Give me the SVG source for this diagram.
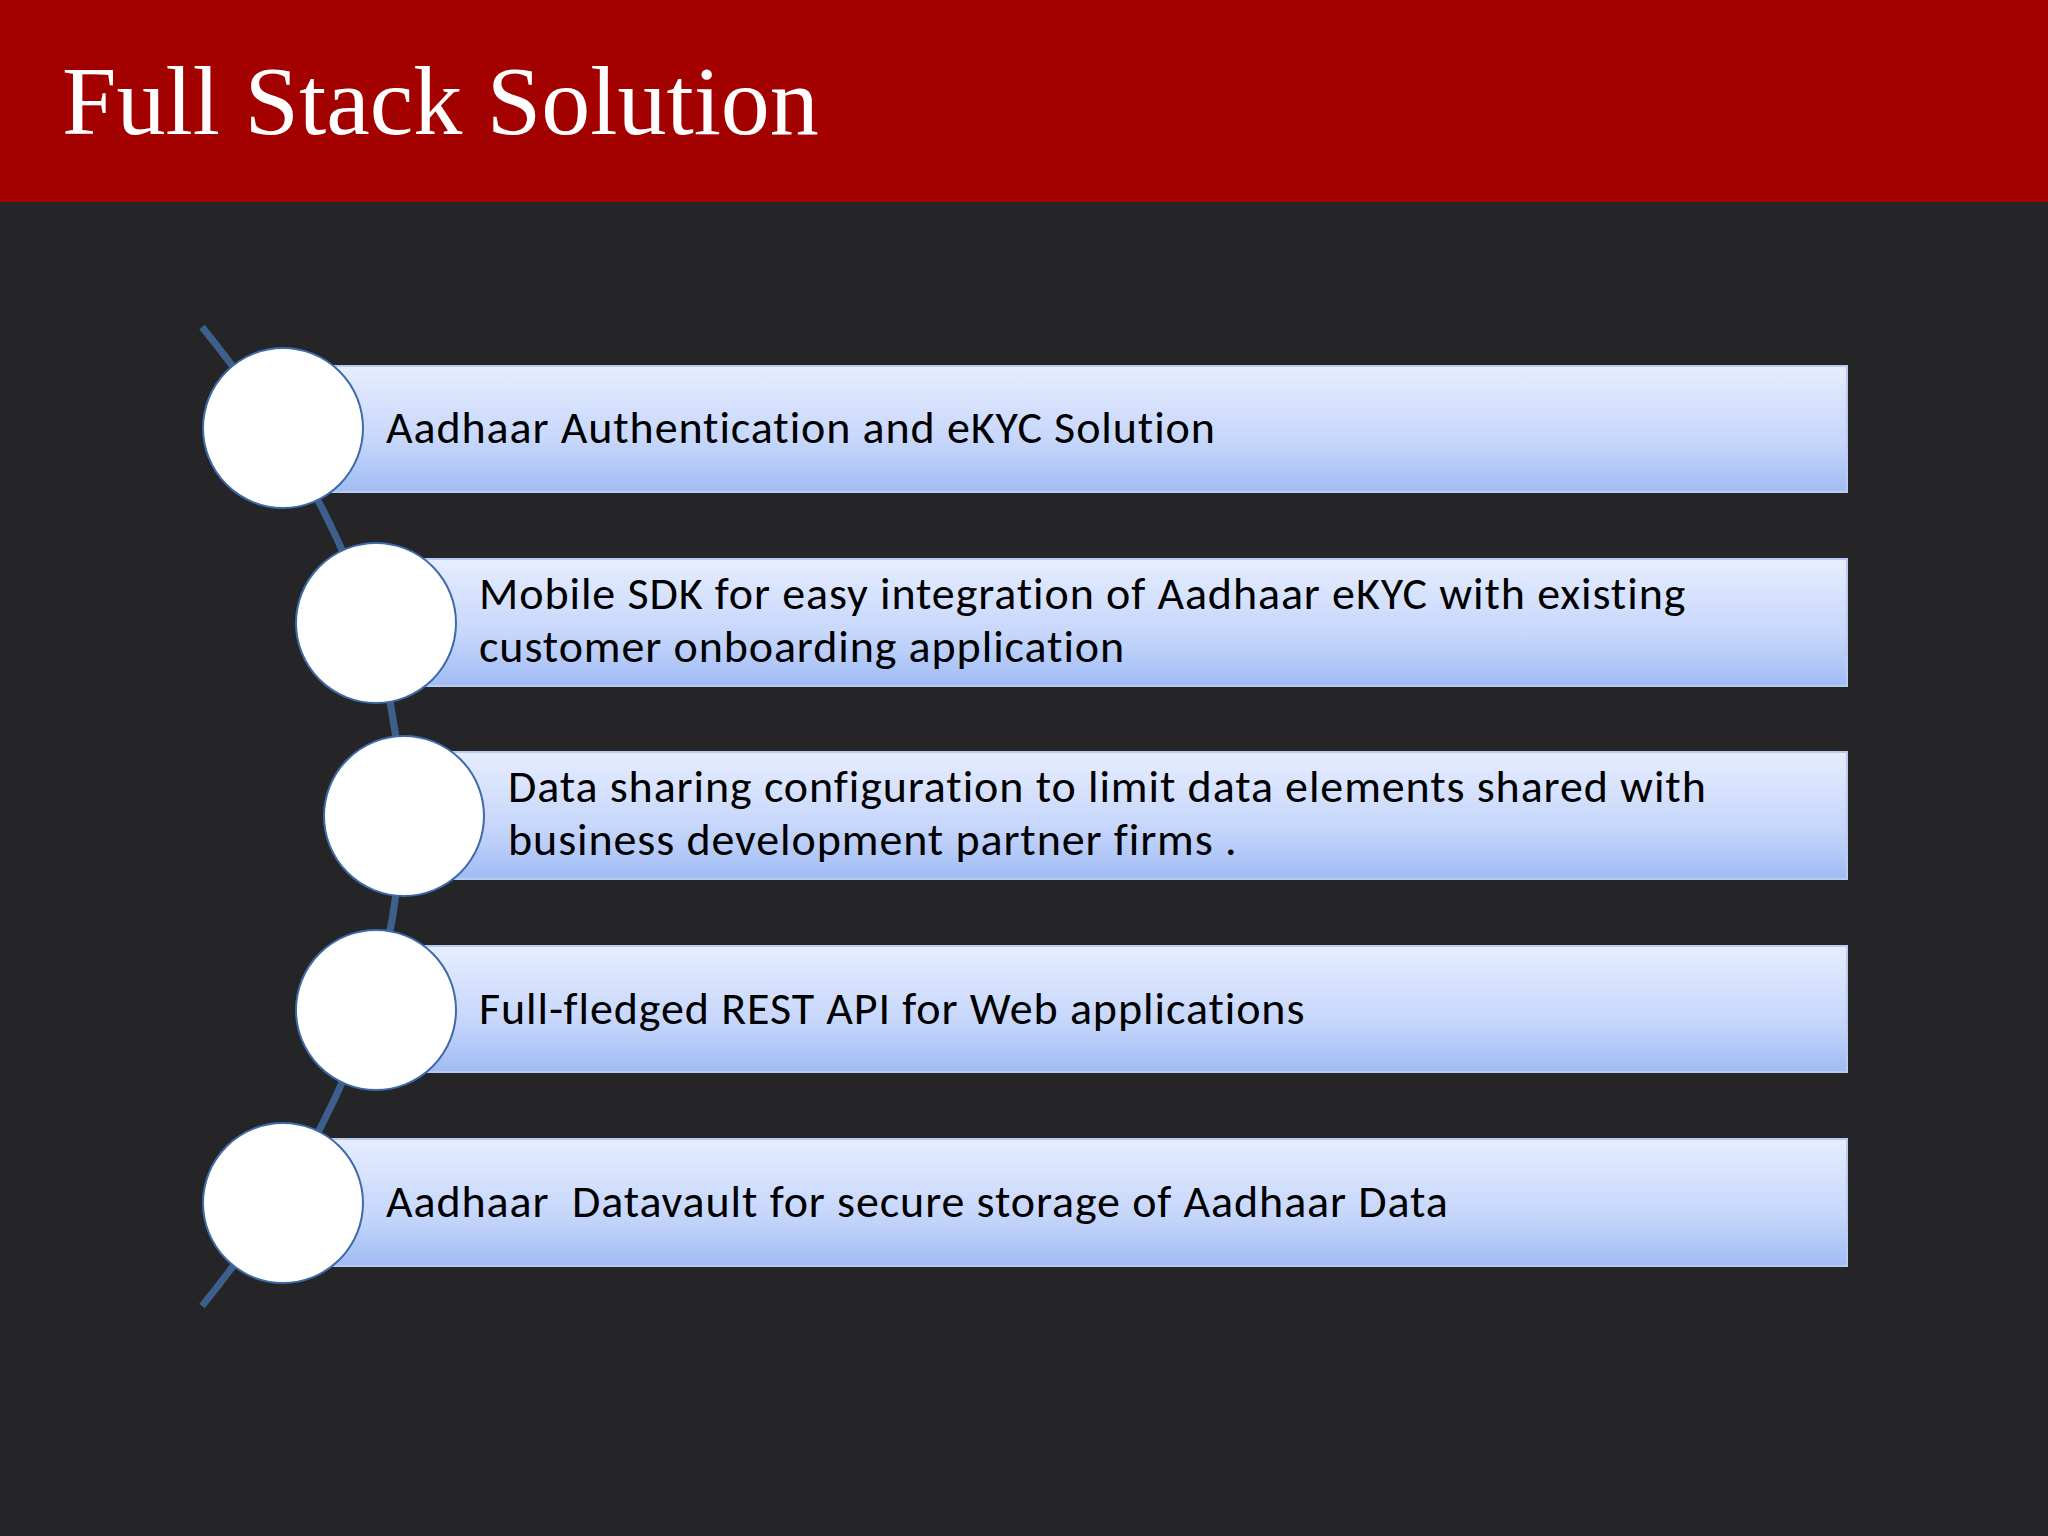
<svg xmlns="http://www.w3.org/2000/svg" width="2048" height="1536" viewBox="0 0 2048 1536">
<defs>
<linearGradient id="g" x1="0" y1="0" x2="0" y2="1">
<stop offset="0" stop-color="#e6edff"/><stop offset="0.6" stop-color="#c6d6fb"/><stop offset="1" stop-color="#9fbcf4"/>
</linearGradient>
</defs>
<style>
.bar{fill:url(#g);stroke:#b9cbef;stroke-width:2}
.c{fill:#fff;stroke:#3e6aa8;stroke-width:2}
.t{font-family:Carlito,"Liberation Sans",sans-serif;font-size:46px;letter-spacing:0.9px;fill:#000}
</style>
<rect width="2048" height="1536" fill="#252527"/>
<rect width="2048" height="202" fill="#a30000"/>
<text x="62" y="134" font-family="Liberation Serif,serif" font-size="98" fill="#fff">Full Stack Solution</text>
<g id="connectors">
<path d="M202 327 Q600 816 202 1306" fill="none" stroke="#3d5f8c" stroke-width="7"/>
</g>
<g id="n1"><rect class="bar" x="327" y="366" width="1520" height="126"/><circle class="c" cx="283" cy="428" r="80"/><text class="t" x="386" y="443">Aadhaar Authentication and eKYC Solution</text></g>
<g id="n2"><rect class="bar" x="418" y="559" width="1429" height="127"/><circle class="c" cx="376" cy="623" r="80"/><text class="t" x="479" y="609">Mobile SDK for easy integration of Aadhaar eKYC with existing</text><text class="t" x="479" y="662">customer onboarding application</text></g>
<g id="n3"><rect class="bar" x="444" y="752" width="1403" height="127"/><circle class="c" cx="404" cy="816" r="80"/><text class="t" x="508" y="802">Data sharing configuration to limit data elements shared with</text><text class="t" x="508" y="855">business development partner firms .</text></g>
<g id="n4"><rect class="bar" x="418" y="946" width="1429" height="126"/><circle class="c" cx="376" cy="1010" r="80"/><text class="t" x="479" y="1024">Full-fledged REST API for Web applications</text></g>
<g id="n5"><rect class="bar" x="327" y="1139" width="1520" height="127"/><circle class="c" cx="283" cy="1203" r="80"/><text class="t" x="386" y="1217" xml:space="preserve">Aadhaar  Datavault for secure storage of Aadhaar Data</text></g>
</svg>
